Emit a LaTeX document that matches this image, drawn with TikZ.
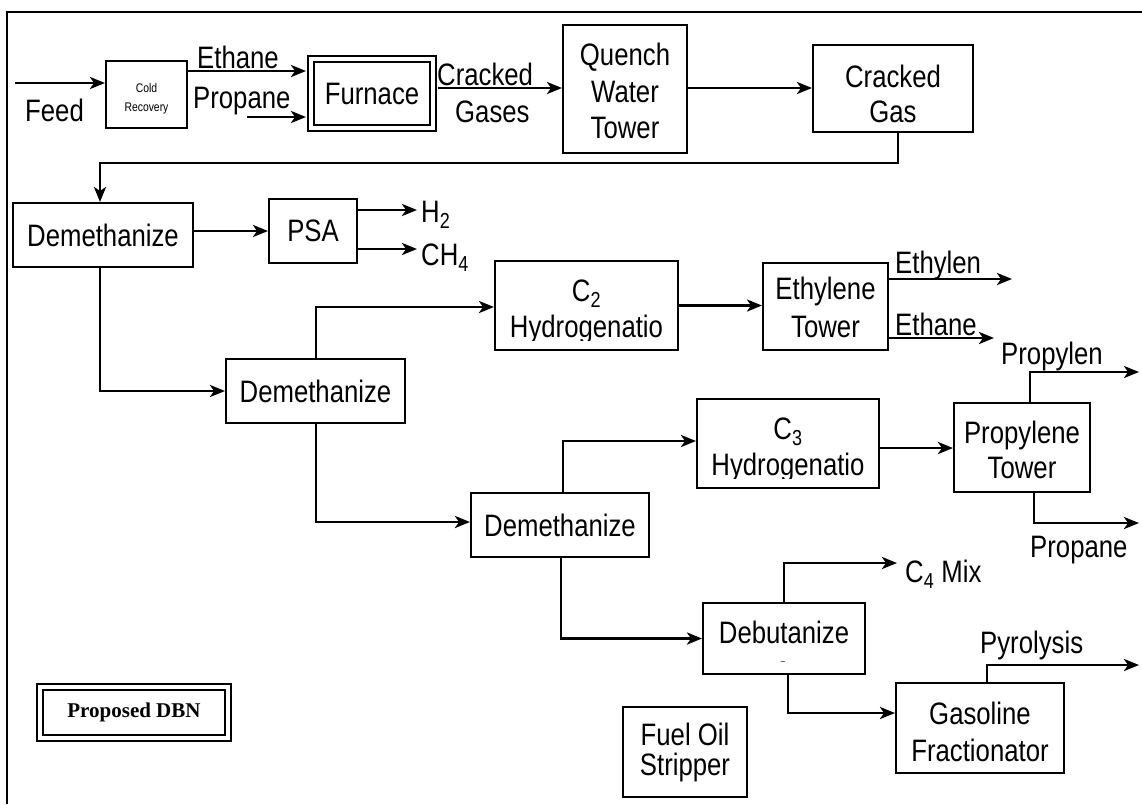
\documentclass[tikz,border=0pt]{standalone}
\usepackage{fontspec}
\setmainfont{Liberation Sans}[FakeStretch=0.83]
\newfontfamily\serifbold{Liberation Serif}
\usetikzlibrary{arrows.meta}
\newcommand\flowfont{\fontsize{31}{36}\selectfont}
\newcommand\smallfont{\fontsize{12.5}{19}\selectfont}

\tikzset{
  unit/.style={draw, line width=2pt, inner sep=0pt, align=center, font=\flowfont},
  twin/.style={draw, double, line width=2pt, double distance=4pt, inner sep=0pt, align=center},
  flow/.style={line width=2.8pt, -{Stealth[length=15pt,width=12pt,inset=4pt]}},
  tag/.style={inner sep=0pt, anchor=base west, font=\flowfont},
  inbox/.style={inner sep=0pt, anchor=base, font=\flowfont, text height=22pt, text depth=0pt},
}

\begin{document}
\begin{tikzpicture}[x=1pt,y=-1pt]
\useasboundingbox (0,0) rectangle (1142,804);

% frame
\draw[line width=2.4pt] (7,804) -- (7,12) -- (1142,12);

% process units
\node[unit, font=\smallfont, minimum width=81pt, minimum height=67pt] (cold) at (146.5,94.5) {\rule{0pt}{18.5pt}Cold\\Recovery};
\node[twin, font=\flowfont, minimum width=122pt, minimum height=69pt] (furn) at (372,93.5) {Furnace};
\node[unit, font=\fontsize{31}{36.5}\selectfont, minimum width=124pt, minimum height=128pt] (quench) at (625,89) {\rule{0pt}{27pt}Quench\\Water\\Tower};
\node[unit, font=\fontsize{31}{35}\selectfont, minimum width=160pt, minimum height=87pt] (cgas) at (893,88.5) {\rule{0pt}{34pt}Cracked\\Gas};
\node[unit, minimum width=180pt, minimum height=64pt] (dem1) at (103,235) {Demethanize};
\node[unit, minimum width=88pt, minimum height=64pt] (psa) at (313,231) {PSA};
\node[unit, minimum width=179pt, minimum height=64pt] (dem2) at (315.5,391) {Demethanize};
\node[unit, minimum width=183pt, minimum height=89pt] (c2) at (586.5,305.5) {};
\begin{scope}
  \clip (495,261) rectangle (678,340);
  \node[inbox] (c2a) at (586.5,301) {C\textsubscript{2}};
  \node[inbox] (c2b) at (586.5,337) {Hydrogenatio};
\end{scope}
\node[unit, font=\fontsize{31}{38}\selectfont, minimum width=125pt, minimum height=87pt] (eth) at (825.5,306.5) {\rule{0pt}{25pt}Ethylene\\Tower};
\node[unit, minimum width=178pt, minimum height=64pt] (dem3) at (560,525) {Demethanize};
\node[unit, minimum width=182pt, minimum height=89pt] (c3) at (788,443.5) {};
\begin{scope}
  \clip (697,399) rectangle (879,478);
  \node[inbox] (c3a) at (788,439) {C\textsubscript{3}};
  \node[inbox] (c3b) at (788,475) {Hydrogenatio};
\end{scope}
\node[unit, font=\fontsize{31}{35}\selectfont, minimum width=136pt, minimum height=89pt] (prop) at (1022,447.5) {\rule{0pt}{28pt}Propylene\\Tower};
\node[unit, minimum width=162pt, minimum height=71pt] (debut) at (784,638.5) {Debutanize\rule[-11.6pt]{0pt}{0pt}};
\node[inner sep=0pt, font=\fontsize{9}{9}\selectfont] (debutmark) at (783,663) {--};
\node[unit, font=\fontsize{31}{37}\selectfont, minimum width=168pt, minimum height=90pt] (gas) at (980,728) {\rule{0pt}{31pt}Gasoline\\Fractionator};
\node[unit, font=\fontsize{31}{30}\selectfont, minimum width=124pt, minimum height=90pt] (fuel) at (685,752) {Fuel Oil\\Stripper};
\node[twin, font=\serifbold\bfseries\fontsize{21}{24}\selectfont, minimum width=188pt, minimum height=51pt] (dbn) at (134,712.5) {Proposed DBN};

% free ends of the streams
\coordinate (feedin) at (15,83);
\coordinate (propin) at (247,117);
\coordinate (h2end) at (417,210);
\coordinate (ch4end) at (417,249);
\coordinate (ethylenend) at (1012,279);
\coordinate (ethaneend) at (994,338);
\coordinate (propylenend) at (1139,372);
\coordinate (propaneend) at (1139,523);
\coordinate (c4end) at (897,563);
\coordinate (pyroend) at (1139,665);

% streams
\draw[flow] (feedin) -- (feedin -| cold.west);
\draw[flow, shorten >=4pt] ([yshift=23.5pt]cold.east) -- ([yshift=22.5pt]furn.west);
\draw[flow, shorten >=4pt] (propin) -- (propin -| furn.west);
\draw[flow, shorten <=4pt] ([yshift=5.5pt]furn.east) -- ([yshift=1pt]quench.west);
\draw[flow] ([yshift=1pt]quench.east) -- ([yshift=0.5pt]cgas.west);
\draw[flow] ([xshift=5pt]cgas.south) -- ++(0,30) -| ([xshift=-3pt]dem1.north);
\draw[flow] (dem1.east |- psa.west) -- (psa.west);
\draw[flow] (psa.east |- h2end) -- (h2end);
\draw[flow] (psa.east |- ch4end) -- (ch4end);
\draw[flow] ([xshift=-3pt]dem1.south) |- (dem2.west);
\draw[flow] ([xshift=0.5pt]dem2.north) |- ([yshift=-1.5pt]c2.west);
\draw[flow] (c2.east) -- (c2.east -| eth.west);
\draw[flow] (eth.east |- ethylenend) -- (ethylenend);
\draw[flow] (eth.east |- ethaneend) -- (ethaneend);
\draw[flow] ([xshift=8pt]prop.north) |- (propylenend);
\draw[flow] ([xshift=12pt]prop.south) |- (propaneend);
\draw[flow] ([xshift=0.5pt]dem2.south) |- ([yshift=3pt]dem3.west);
\draw[flow] ([xshift=3pt]dem3.north) |- ([yshift=2.5pt]c3.west);
\draw[flow] ([yshift=-4.5pt]c3.east) -- ([yshift=-0.5pt]prop.west);
\draw[flow] ([xshift=1pt]dem3.south) |- (debut.west);
\draw[flow] (debut.north) |- (c4end);
\draw[flow] ([xshift=4pt]debut.south) |- ([yshift=15pt]gas.west);
\draw[flow] ([xshift=7pt]gas.north) |- (pyroend);

% stream labels
\node[tag] (feedlbl) at (25,121) {Feed};
\node[tag] (ethanelbl) at (197,68) {Ethane};
\node[tag] (propanelbl) at (193,108) {Propane};
\node[tag] (crackedlbl) at (437,85) {Cracked};
\node[tag] (gaseslbl) at (455,122) {Gases};
\node[tag] (h2lbl) at (421,222) {H\textsubscript{2}};
\node[tag] (ch4lbl) at (421,265) {CH\textsubscript{4}};
\node[tag] (ethylenlbl) at (895,273) {Ethylen};
\node[tag] (ethaneoutlbl) at (895,335) {Ethane};
\node[tag] (propylenlbl) at (1001,364) {Propylen};
\node[tag] (propaneoutlbl) at (1030,557) {Propane};
\node[tag] (c4lbl) at (905,582) {C\textsubscript{4} Mix};
\node[tag] (pyrolbl) at (980,653) {Pyrolysis};
\end{tikzpicture}
\end{document}
